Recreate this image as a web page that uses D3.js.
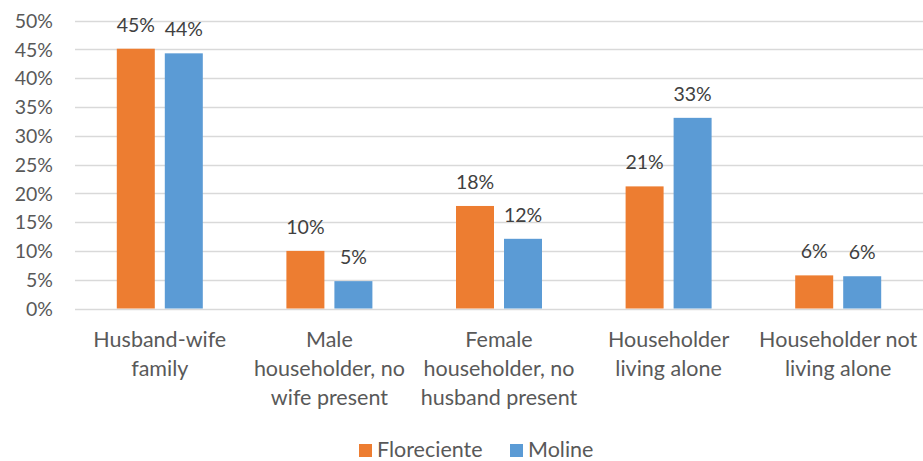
<!DOCTYPE html>
<html>
<head>
<meta charset="utf-8">
<script src="https://cdn.jsdelivr.net/npm/d3@7"></script>
<style>
  body { margin: 0; background: #fff; }
  text { font-family: Lato, "Liberation Sans", sans-serif; }
</style>
</head>
<body>
<div id="chart"></div>
<script>
// household types, share of households
var categories = [
	["Husband-wife", "family"],
	["Male", "householder, no", "wife present"],
	["Female", "householder, no", "husband present"],
	["Householder", "living alone"],
	["Householder not", "living alone"]
];
var seriesNames = ["Floreciente", "Moline"];
var floreciente = [45.1, 10.0, 17.8, 21.2, 5.75];
var moline = [44.3, 4.75, 12.1, 33.1, 5.6];
var yTicks = [0, 5, 10, 15, 20, 25, 30, 35, 40, 45, 50];
var colors = ["#ED7D31", "#5B9BD5"];

var width = 923, height = 461;
var margin = {left: 75, right: 0, top: 20.5, bottom: 152.5};

var svg = d3.select("#chart")
	.append("svg")
	.attr("width", width)
	.attr("height", height);

var x = d3.scaleBand()
	.domain(d3.range(categories.length))
	.range([margin.left, width - margin.right])
	.paddingInner(0)
	.paddingOuter(0);

var inner = d3.scaleBand()
	.domain(d3.range(seriesNames.length))
	.range([x.bandwidth() / 2 - 43, x.bandwidth() / 2 + 43])
	.paddingInner(10 / 48);

var y = d3.scaleLinear()
	.domain([0, 50])
	.range([height - margin.bottom, margin.top]);

// gridlines
svg.append("g")
	.selectAll("line")
	.data(yTicks)
	.enter().append("line")
	.attr("x1", margin.left)
	.attr("x2", width - margin.right)
	.attr("y1", function (d) { return Math.round(y(d)) + 0.5; })
	.attr("y2", function (d) { return Math.round(y(d)) + 0.5; })
	.style("stroke", "#d9d9d9")
	.style("stroke-width", "1.3px");

// y axis labels
var yAxis = d3.axisLeft(y)
	.tickValues(yTicks)
	.tickSize(0)
	.tickPadding(0)
	.tickFormat(function (d) { return d + "%"; });

var gy = svg.append("g")
	.attr("transform", "translate(53,0)")
	.call(yAxis);
gy.select(".domain").remove();
gy.selectAll("text")
	.style("font-family", "Lato, 'Liberation Sans', sans-serif")
	.style("font-size", "19.5px")
	.style("fill", "#595959")
	.attr("dy", "0.35em");

var data = [floreciente, moline];

for (var s = 0; s < data.length; s++) {
	var g = svg.append("g");
	g.selectAll("rect")
		.data(data[s])
		.enter().append("rect")
		.attr("x", function (d, i) { return x(i) + inner(s); })
		.attr("y", function (d) { return y(d); })
		.attr("width", inner.bandwidth())
		.attr("height", function (d) { return y(0) - y(d); })
		.attr("fill", colors[s]);

	g.selectAll("text")
		.data(data[s])
		.enter().append("text")
		.attr("x", function (d, i) { return x(i) + inner(s) + inner.bandwidth() / 2; })
		.attr("y", function (d) { return y(d) - 17; })
		.attr("text-anchor", "middle")
		.style("font-size", "19.5px")
		.style("fill", "#404040")
		.text(function (d) { return Math.round(d) + "%"; });
}

// category labels
var xl = svg.append("g");
categories.forEach(function (lines, i) {
	var t = xl.append("text")
		.attr("text-anchor", "middle")
		.style("font-size", "21.5px")
		.style("fill", "#595959");
	lines.forEach(function (ln, j) {
		t.append("tspan")
			.attr("x", x(i) + x.bandwidth() / 2)
			.attr("y", 347 + j * 29)
			.text(ln);
	});
});

// legend
var legend = svg.append("g");
var legX = [359, 510];
seriesNames.forEach(function (name, i) {
	legend.append("rect")
		.attr("x", legX[i])
		.attr("y", 444)
		.attr("width", 13)
		.attr("height", 13)
		.attr("fill", colors[i]);
	legend.append("text")
		.attr("x", legX[i] + 18)
		.attr("y", 457)
		.style("font-size", "21.5px")
		.style("fill", "#595959")
		.text(name);
});
</script>
</body>
</html>
